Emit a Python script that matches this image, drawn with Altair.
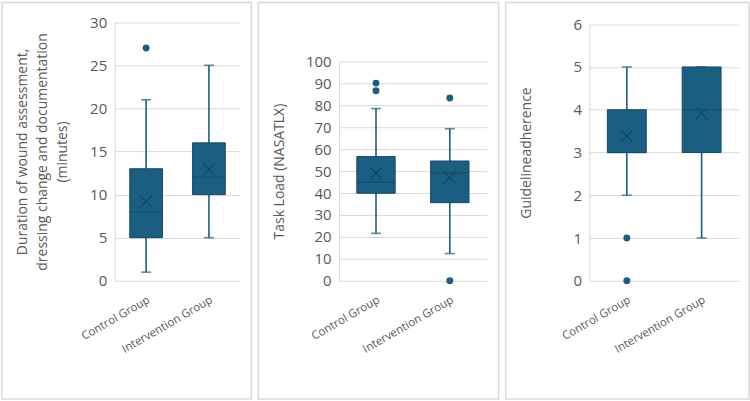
import altair as alt
import pandas as pd

groups = ["Control Group", "Intervention Group"]

# Box-plot summaries per group: lower whisker, Q1, median, Q3, upper whisker, mean
dur_low = [1, 5]
dur_q1 = [5, 10]
dur_med = [8, 12]
dur_q3 = [13, 16]
dur_high = [21, 25]
dur_mean = [9.2, 12.9]
dur_out_group = ["Control Group"]
dur_out_value = [27]

tl_low = [21.6, 12.4]
tl_q1 = [39.9, 35.6]
tl_med = [44.9, 49.2]
tl_q3 = [56.6, 54.6]
tl_high = [78.5, 69.3]
tl_mean = [48.9, 47.0]
tl_out_group = ["Control Group", "Control Group", "Intervention Group", "Intervention Group"]
tl_out_value = [90.1, 86.6, 83.3, 0]

ga_low = [2, 1]
ga_q1 = [3, 3]
ga_med = [3, 4]
ga_q3 = [4, 5]
ga_high = [5, 5]
ga_mean = [3.38, 3.91]
ga_out_group = ["Control Group", "Control Group"]
ga_out_value = [1, 0]

BOX = "#1a5e82"
DARK = "#124a68"
GRID = "#d9d9d9"
TXT = "#595959"
FONT = "Open Sans"
H = 260  # common plot-area height; each y scale uses its own top offset


def panel(low, q1, med, q3, high, mean, out_g, out_v, ymax, step, title,
          w, top, frame_x, title_x):
    stats = pd.DataFrame({"group": groups, "low": low, "q1": q1, "med": med,
                          "q3": q3, "high": high, "mean": mean})
    outs = pd.DataFrame({"group": out_g, "v": out_v})

    xs = alt.X("group:N", sort=groups,
               scale=alt.Scale(domain=groups, paddingInner=0, paddingOuter=0),
               axis=alt.Axis(title=None, labelAngle=-30, labelFontSize=11.5,
                             labelColor=TXT, labelFont=FONT, ticks=False,
                             domain=False, labelPadding=13))
    yscale = alt.Scale(domain=[0, ymax], range=[H, top], nice=False)
    yaxis = alt.Axis(title=title, values=list(range(0, ymax + 1, step)),
                     grid=True, gridColor=GRID, domainColor=GRID, ticks=False,
                     labelFontSize=15, labelColor=TXT, labelFont=FONT,
                     labelPadding=8, titleFontSize=14, titleFont=FONT,
                     titleColor=TXT, titleFontWeight="normal",
                     titleAngle=-90, titleX=title_x, titleY=(H + top) / 2,
                     titleAlign="center", titleBaseline="middle",
                     titleLineHeight=20)

    bw = w / 2 * 0.52
    base = alt.Chart(stats)
    whisker = base.mark_rule(color=BOX, strokeWidth=1.6).encode(
        x=xs, y=alt.Y("low:Q", scale=yscale, axis=yaxis), y2="high:Q")
    caps_lo = base.mark_tick(color=BOX, thickness=1.6, size=10).encode(
        x=xs, y=alt.Y("low:Q", scale=yscale, axis=yaxis))
    caps_hi = base.mark_tick(color=BOX, thickness=1.6, size=10).encode(
        x=xs, y=alt.Y("high:Q", scale=yscale, axis=yaxis))
    box = base.mark_bar(size=bw, color=BOX, stroke=DARK,
                        strokeWidth=1).encode(
        x=xs, y=alt.Y("q1:Q", scale=yscale, axis=yaxis), y2="q3:Q")
    median = base.mark_tick(color=DARK, thickness=1.3, size=bw).encode(
        x=xs, y=alt.Y("med:Q", scale=yscale, axis=yaxis))
    means = base.mark_point(shape="M-1,-1L1,1M-1,1L1,-1", size=130,
                            stroke=DARK, strokeWidth=1.3, filled=False,
                            opacity=1).encode(
        x=xs, y=alt.Y("mean:Q", scale=yscale, axis=yaxis))
    outliers = alt.Chart(outs).mark_circle(size=48, color=BOX,
                                           opacity=1).encode(
        x=xs, y=alt.Y("v:Q", scale=yscale, axis=yaxis))
    border = alt.Chart(pd.DataFrame({"k": [0]})).mark_rect(
        fillOpacity=0, stroke=GRID, strokeWidth=1.5).encode(
        x=alt.value(frame_x[0]), x2=alt.value(frame_x[1]),
        y=alt.value(-19), y2=alt.value(378.5))

    return alt.layer(border, whisker, caps_lo, caps_hi, box, median, means,
                     outliers).properties(width=w, height=H)


p1 = panel(dur_low, dur_q1, dur_med, dur_q3, dur_high, dur_mean,
           dur_out_group, dur_out_value, 30, 5,
           ["Duration of wound assessment,", "dressing change and documentation",
            "(minutes)"],
           126, 0.7, (-113, 137), -92)
p2 = panel(tl_low, tl_q1, tl_med, tl_q3, tl_high, tl_mean,
           tl_out_group, tl_out_value, 100, 10, "Task Load (NASATLX)",
           148, 40, (-81, 160), -60)
p3 = panel(ga_low, ga_q1, ga_med, ga_q3, ga_high, ga_mean,
           ga_out_group, ga_out_value, 6, 1, "Guidelineadherence",
           150, 2.7, (-84, 160), -63)

chart = alt.hconcat(p1, p2, p3, spacing=5).properties(
    padding={"left": 1, "top": 1, "right": 0, "bottom": 0},
    background="white",
).configure_view(stroke=None)

chart.save("out.html", embed_options={"renderer": "svg", "actions": False})
